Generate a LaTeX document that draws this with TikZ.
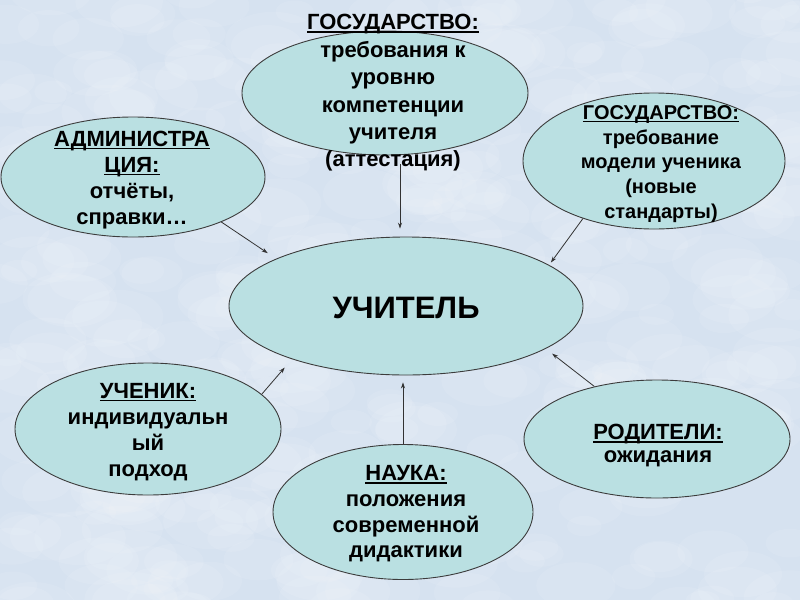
\documentclass[tikz,border=0pt]{standalone}
\usepackage{fontspec}
\setmainfont{Liberation Sans}
\usetikzlibrary{arrows.meta,shapes.geometric,calc}
\definecolor{bgblue}{RGB}{214,226,240}
\definecolor{ovalfill}{RGB}{186,224,226}
\definecolor{ovalline}{RGB}{60,60,60}
\definecolor{arrcol}{RGB}{50,50,50}
\newcommand\myul[1]{\setbox0\hbox{#1}\rlap{\rule[-0.14em]{\wd0}{0.075em}}\box0}
\begin{document}
\begin{tikzpicture}[x=1pt,y=-1pt,
  oval/.style={ellipse, draw=ovalline, line width=0.9pt, fill=ovalfill, inner sep=0pt},
  txt/.style={align=center, inner sep=0pt, font=\fontsize{22}{#1}\selectfont\bfseries},
  txt/.default=26,
  arr/.style={draw=arrcol, line width=0.8pt, -{Stealth[length=6pt,width=4pt]}}]
\fill[bgblue] (0,0) rectangle (800,600);
\useasboundingbox (0,0) rectangle (800,600);
\pgfmathsetseed{12}
\foreach \i in {1,...,420}{
  \pgfmathsetmacro\xx{400+410*rand}
  \pgfmathsetmacro\yy{300+310*rand}
  \pgfmathsetmacro\rr{10+18*rnd}
  \pgfmathsetmacro\rx{\rr*1.7}
  \fill[white,opacity=0.09] (\xx,\yy) ellipse [x radius=\rx pt, y radius=\rr pt];
}
% ovals
\node[oval, minimum width=286pt, minimum height=124pt] (govtop) at (385,93) {};
\node[oval, minimum width=264pt, minimum height=120pt] (admin) at (133,177) {};
\node[oval, minimum width=262pt, minimum height=136pt] (govright) at (654,161) {};
\node[oval, minimum width=354pt, minimum height=138pt] (teacher) at (406,306) {};
\node[oval, minimum width=266pt, minimum height=132pt] (student) at (148,429) {};
\node[oval, minimum width=260pt, minimum height=135pt] (science) at (403,512) {};
\node[oval, minimum width=266pt, minimum height=118pt] (parents) at (657,439) {};
% texts
\node[txt=27.4] (govtoptext) at (393,93) {\myul{ГОСУДАРСТВО:}\\требования к\\уровню\\компетенции\\учителя\\(аттестация)};
\node[txt=26] (admintext) at (132,180) {\myul{АДМИНИСТРА}\\\myul{ЦИЯ:}\\отчёты,\\справки…};
\node[txt, font=\fontsize{20}{24.8}\selectfont\bfseries] (govrighttext) at (661,164) {\myul{ГОСУДАРСТВО:}\\требование\\модели ученика\\(новые\\стандарты)};
\node[txt, font=\fontsize{31}{36}\selectfont\bfseries] (teachertext) at (406,308) {УЧИТЕЛЬ};
\node[txt=26] (studenttext) at (148,432) {\myul{УЧЕНИК:}\\индивидуальн\\ый\\подход};
\node[txt=25.7] (sciencetext) at (406,514) {\myul{НАУКА:}\\положения\\современной\\дидактики};
\node[txt=23] (parentstext) at (658,446) {\myul{РОДИТЕЛИ:}\\ожидания};
% arrows
\coordinate (topfoot) at (400,164);
\draw[arr, shorten >=8pt] (topfoot) -- (topfoot |- teacher.north);
\draw[arr, shorten >=10pt] (admin.-27.6) -- (teacher.160);
\draw[arr, shorten >=3pt] (govright.-141.1) -- (teacher.16.7);
\draw[arr, shorten >=11pt] (student.17.5) -- (teacher.-155.7);
\draw[arr, shorten >=8pt] (parents.140) -- (teacher.-17.5);
\draw[arr, shorten >=7pt] (science.north) -- (science.north |- teacher.south);
\end{tikzpicture}
\end{document}
